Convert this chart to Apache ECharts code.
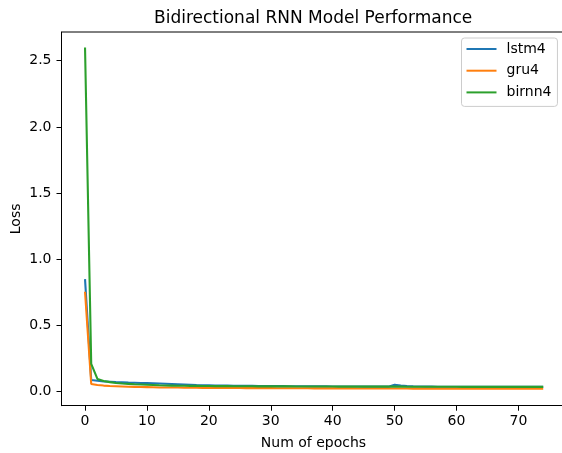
<!DOCTYPE html>
<html>
<head>
<meta charset="utf-8">
<script src="https://cdn.jsdelivr.net/npm/echarts@6/dist/echarts.min.js"></script>
<style>html,body{margin:0;padding:0;background:#fff;overflow:hidden;}#c{width:562px;height:453px;}</style>
</head>
<body>
<div id="c"></div>
<script>
const epochs = [0,1,2,3,4,5,6,7,8,9,10,11,12,13,14,15,16,17,18,19,20,21,22,23,24,25,26,27,28,29,30,31,32,33,34,35,36,37,38,39,40,41,42,43,44,45,46,47,48,49,50,51,52,53,54,55,56,57,58,59,60,61,62,63,64,65,66,67,68,69,70,71,72,73,74];
const lstm4 = [0.85,0.088,0.083,0.078,0.075,0.072,0.070,0.068,0.067,0.066,0.065,0.064,0.062,0.060,0.058,0.056,0.054,0.052,0.050,0.049,0.048,0.047,0.046,0.046,0.045,0.045,0.044,0.044,0.043,0.043,0.042,0.042,0.042,0.041,0.041,0.041,0.040,0.040,0.040,0.040,0.039,0.039,0.039,0.039,0.039,0.038,0.038,0.038,0.038,0.038,0.052,0.046,0.042,0.040,0.039,0.038,0.038,0.037,0.037,0.037,0.037,0.036,0.036,0.036,0.036,0.036,0.036,0.036,0.036,0.036,0.036,0.036,0.036,0.036,0.036];
const gru4 = [0.755,0.058,0.050,0.046,0.043,0.041,0.039,0.037,0.036,0.035,0.034,0.033,0.032,0.032,0.031,0.031,0.030,0.030,0.030,0.029,0.029,0.029,0.028,0.028,0.028,0.028,0.027,0.027,0.027,0.027,0.027,0.026,0.026,0.026,0.026,0.026,0.026,0.025,0.025,0.025,0.025,0.025,0.025,0.025,0.024,0.024,0.024,0.024,0.024,0.024,0.024,0.024,0.024,0.023,0.023,0.023,0.023,0.023,0.023,0.023,0.023,0.023,0.023,0.022,0.022,0.022,0.022,0.022,0.022,0.022,0.022,0.022,0.022,0.022,0.022];
const birnn4 = [2.6,0.21,0.096,0.080,0.072,0.066,0.062,0.059,0.056,0.054,0.052,0.050,0.048,0.047,0.046,0.045,0.045,0.044,0.044,0.043,0.043,0.042,0.042,0.042,0.041,0.041,0.041,0.041,0.040,0.040,0.040,0.040,0.040,0.040,0.039,0.039,0.039,0.039,0.039,0.039,0.039,0.038,0.038,0.038,0.038,0.038,0.038,0.038,0.038,0.038,0.038,0.038,0.037,0.037,0.037,0.037,0.037,0.037,0.037,0.037,0.037,0.036,0.036,0.036,0.036,0.036,0.036,0.036,0.036,0.036,0.036,0.036,0.036,0.036,0.036];
const xTicks = [0,10,20,30,40,50,60,70];
const yTicks = [0,0.5,1.0,1.5,2.0,2.5];
const seriesNames = ['lstm4','gru4','birnn4'];
const colors = ['#1f77b4','#ff7f0e','#2ca02c'];

const font = 'DejaVu Sans';
const pair = arr => epochs.map((e,i)=>[e,arr[i]]);
const chart = echarts.init(document.getElementById('c'), null, {renderer:'canvas'});
chart.setOption({
  animation:false,
  backgroundColor:'#fff',
  title:{text:'Bidirectional RNN Model Performance', left:149, top:5,
    textStyle:{fontFamily:font,fontSize:17,fontWeight:'normal',color:'#000'}},
  grid:{left:61.5, top:32, width:504, height:373.7, containLabel:false, outerBoundsMode:'none', show:false},
  legend:{
    data:seriesNames.map(n=>({name:n, icon:'rect'})),
    orient:'vertical', left:461.5, top:38,
    itemWidth:30, itemHeight:2, itemGap:5.7,
    padding:[3,6,6,5],
    borderColor:'#cccccc', borderWidth:1, borderRadius:3,
    backgroundColor:'rgba(255,255,255,0.8)',
    textStyle:{fontFamily:font,fontSize:14,color:'#000',lineHeight:16,padding:[0,0,0,5]}
  },
  xAxis:{
    type:'value', min:-3.8, max:77.6,
    name:'Num of epochs', nameLocation:'middle', nameGap:31, nameMoveOverlap:false,
    nameTextStyle:{fontFamily:font,fontSize:14,color:'#000'},
    axisLine:{show:true,onZero:false,lineStyle:{color:'#000',width:1}},
    axisTick:{show:true,length:5,customValues:xTicks,lineStyle:{color:'#000'}},
    axisLabel:{customValues:xTicks,fontFamily:font,fontSize:14,color:'#000',margin:9},
    splitLine:{show:false}
  },
  yAxis:{
    type:'value', min:-0.106, max:2.717,
    name:'Loss', nameLocation:'middle', nameGap:38, nameMoveOverlap:false,
    nameTextStyle:{fontFamily:font,fontSize:14,color:'#000'},
    axisLine:{show:true,onZero:false,lineStyle:{color:'#000',width:1}},
    axisTick:{show:true,length:5,customValues:yTicks,lineStyle:{color:'#000'}},
    axisLabel:{customValues:yTicks,fontFamily:font,fontSize:14,color:'#000',margin:10,
      formatter:v=>v.toFixed(1)},
    splitLine:{show:false}
  },
  graphic:[{type:'line',shape:{x1:61.5,y1:32,x2:562,y2:32},style:{stroke:'#000',lineWidth:1},silent:true,z:10}],
  series:[lstm4,gru4,birnn4].map((d,i)=>({
    name:seriesNames[i], type:'line', data:pair(d), showSymbol:false, symbol:'none',
    lineStyle:{color:colors[i],width:2.1}, itemStyle:{color:colors[i]}, z:2+i
  }))
});
</script>
</body>
</html>
